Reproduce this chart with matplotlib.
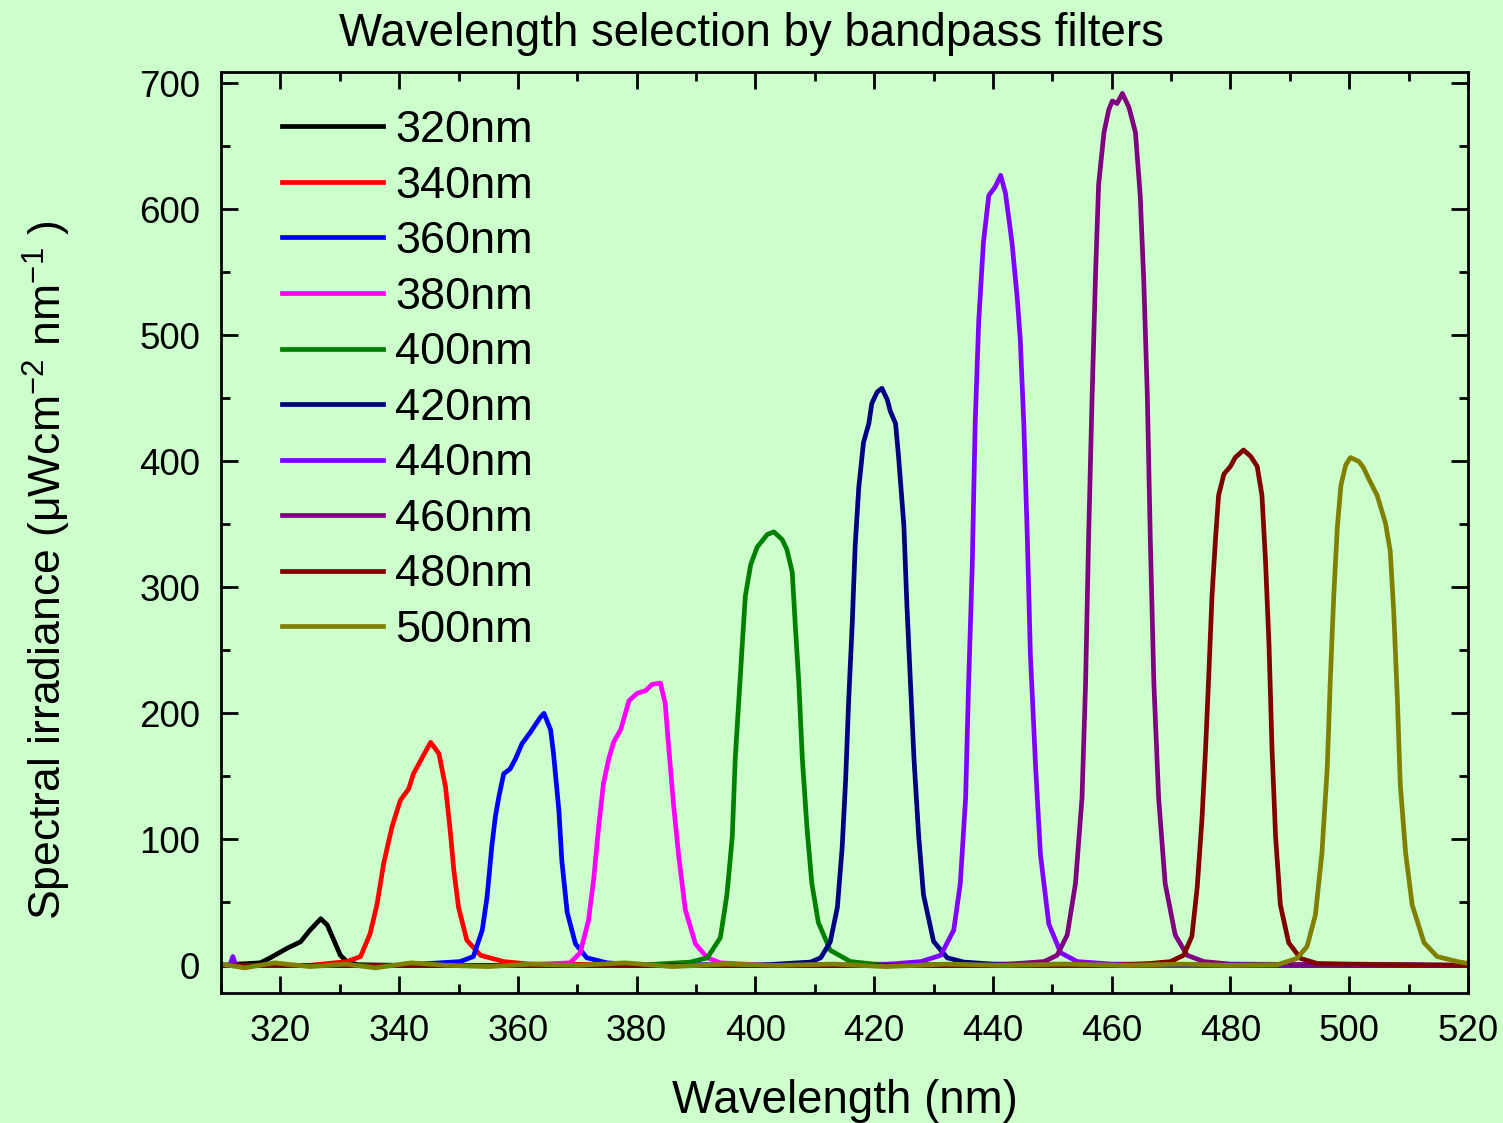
import matplotlib.pyplot as plt
from matplotlib.ticker import MultipleLocator

plt.rcParams['font.family'] = ['Liberation Sans', 'DejaVu Sans']
plt.rcParams['mathtext.fontset'] = 'custom'
plt.rcParams['mathtext.rm'] = 'Liberation Sans'
plt.rcParams['mathtext.it'] = 'Liberation Sans:italic'

bg = '#CCFFCC'

labels = ['320nm', '340nm', '360nm', '380nm', '400nm',
          '420nm', '440nm', '460nm', '480nm', '500nm']
colors = ['#000000', '#FF0000', '#0000FF', '#FF00FF', '#008000',
          '#000080', '#8000FF', '#800080', '#800000', '#808000']

# values (wavelength nm, irradiance uW cm^-2 nm^-1)
wl_320 = [310, 313, 316.6, 318.3, 321.1, 323.4, 325.0, 326.8, 327.9, 329.0,
          330.1, 331.2, 333, 340, 400, 520]
irr_320 = [0, 1, 2, 6, 13.5, 18.7, 28, 37, 32, 20, 8, 3, 0.5, 0, 0, 0]

wl_340 = [310, 325, 331.2, 333.5, 335.1, 336.3, 337.4, 338.8, 340.2, 341.6,
          342.4, 343.9, 345.3, 346.7, 347.8, 348.6, 349.2, 350.0, 351.4,
          353.7, 357.6, 362, 400, 520]
irr_340 = [0, 0, 3, 7, 25, 49, 81, 110, 131, 140, 152, 165, 177, 168, 142,
           107, 76, 46, 20, 8, 3, 1, 0, 0]

wl_360 = [310, 340, 350.3, 352.5, 354.0, 354.8, 355.6, 356.2, 356.8, 357.6,
          358.7, 359.6, 360.7, 362.1, 363.8, 364.4, 365.5, 366.0, 366.9,
          367.4, 368.3, 369.7, 371.6, 375.0, 380, 450, 520]
irr_360 = [0, 0, 3, 7, 28, 54, 94, 118, 134, 152, 156, 164, 176, 185, 197,
           200, 187, 168, 123, 83, 42, 17, 6, 2, 0.5, 0, 0]

wl_380 = [310, 360, 368.8, 370.5, 371.9, 372.8, 373.6, 374.4, 375.3, 376.1,
          377.3, 378.1, 378.7, 380.1, 381.5, 382.6, 384.0, 384.8, 385.4,
          386.2, 387.1, 388.2, 389.9, 391.9, 394.1, 400, 450, 520]
irr_380 = [0, 0, 2, 10, 36, 70, 110, 144, 164, 177, 187, 200, 210, 216, 218,
           223, 224, 208, 173, 128, 86, 44, 17, 6, 2, 0.5, 0, 0]

wl_400 = [310, 380, 389.1, 391.9, 394.1, 395.2, 396.1, 396.6, 397.2, 397.8,
          398.3, 399.2, 400.3, 402.0, 403.1, 404.5, 405.3, 406.2, 406.7,
          407.3, 407.9, 408.7, 409.5, 410.6, 412.6, 416.0, 420, 450, 520]
irr_400 = [0, 0, 2.6, 6, 22, 56, 102, 164, 210, 256, 293, 318, 332, 342, 344,
           338, 330, 312, 271, 225, 164, 108, 65, 34, 12, 3, 1, 0, 0]

wl_420 = [310, 400, 409.3, 411.0, 412.6, 413.8, 414.6, 415.2, 415.7, 416.3,
          416.8, 417.4, 418.2, 419.1, 419.6, 420.5, 421.3, 422.2, 422.7,
          423.6, 424.1, 425.0, 425.5, 426.1, 426.7, 427.5, 428.3, 430.0,
          432.3, 435.1, 440, 520]
irr_420 = [0, 0, 2.6, 6, 18.6, 46, 93, 148, 210, 271, 333, 379, 415, 430, 446,
           455, 458, 449, 440, 430, 404, 349, 287, 225, 164, 102, 56, 19, 6,
           2.6, 1, 0]

wl_440 = [310, 311.5, 312, 312.5, 420, 427.9, 431.2, 433.4, 434.5, 435.4,
          435.9, 436.5, 437.0, 437.6, 438.4, 439.3, 440.4, 441.3, 442.1,
          443.2, 444.1, 444.6, 445.2, 445.8, 446.3, 447.2, 448.0, 449.4,
          451.4, 454.2, 460, 520]
irr_440 = [0, 0, 7, 0, 0, 3, 8, 28, 65, 133, 224, 315, 429, 511, 574, 611,
           618, 627, 613, 574, 529, 497, 429, 338, 247, 156, 88, 33, 10, 3,
           1, 0]

wl_460 = [310, 440, 448.6, 450.8, 452.5, 453.9, 455.0, 455.6, 456.1, 456.7,
          457.3, 457.8, 458.7, 459.5, 460.1, 460.9, 461.8, 462.9, 464.0,
          464.8, 465.4, 466.0, 466.5, 467.1, 467.9, 469.0, 470.7, 472.7,
          475.5, 480, 520]
irr_460 = [0, 0, 3, 8, 24, 65, 133, 224, 338, 452, 552, 620, 661, 679, 686,
           684, 692, 681, 661, 611, 543, 452, 338, 224, 133, 65, 24, 8, 3, 1,
           0]

wl_480 = [310, 460, 466.5, 469.9, 472.1, 473.5, 474.4, 475.2, 475.8, 476.3,
          476.9, 477.5, 478.0, 478.9, 480.0, 480.8, 482.2, 483.4, 484.5,
          485.3, 485.9, 486.5, 487.0, 487.6, 488.4, 489.8, 491.8, 494.6, 500,
          520]
irr_480 = [0, 0, 1.5, 3, 8, 23, 62, 116, 171, 225, 294, 340, 373, 390, 396,
           403, 409, 404, 396, 373, 321, 253, 171, 102, 48, 18, 5.5, 1.5, 1, 0]

wl_500 = [310, 314, 319, 325, 331, 336, 342, 348, 355, 362, 370, 378, 386,
          395, 404, 413, 422, 432, 442, 452, 462, 472, 480, 487.9, 491.2,
          492.9, 494.3, 495.4, 496.3, 496.8, 497.4, 498.0, 498.6, 499.4,
          500.2, 501.6, 502.4, 503.3, 504.7, 506.1, 506.9, 507.5, 508.1,
          508.6, 509.5, 510.6, 512.6, 514.8, 518.2, 520]
irr_500 = [1, -2, 2, -1, 1, -2, 2, 0, -1, 1, 0, 2, -1, 1, 0, 1, -1, 1, 0, 1,
           0, 1, 0, 0.5, 5.5, 15, 40, 89, 157, 225, 294, 348, 381, 397, 403,
           400, 395, 386, 373, 351, 329, 280, 212, 143, 89, 48, 18, 7, 3, 1.5]

wavelengths = [wl_320, wl_340, wl_360, wl_380, wl_400,
               wl_420, wl_440, wl_460, wl_480, wl_500]
irradiance = [irr_320, irr_340, irr_360, irr_380, irr_400,
              irr_420, irr_440, irr_460, irr_480, irr_500]

fig = plt.figure(figsize=(15.03, 11.23), dpi=100, facecolor=bg)
ax = fig.add_axes([221 / 1503, (1123 - 992.7) / 1123,
                   (1468 - 221) / 1503, (992.7 - 72) / 1123])
ax.set_facecolor(bg)

for wl, irr, c, lab in zip(wavelengths, irradiance, colors, labels):
    ax.plot(wl, irr, color=c, lw=3.4, label=lab, solid_joinstyle='round')

ax.set_xlim(310, 520)
ax.set_ylim(-21.7, 709)
ax.xaxis.set_major_locator(MultipleLocator(20))
ax.xaxis.set_minor_locator(MultipleLocator(10))
ax.yaxis.set_major_locator(MultipleLocator(100))
ax.yaxis.set_minor_locator(MultipleLocator(50))
ax.tick_params(which='both', direction='in', top=True, right=True, width=2)
ax.tick_params(which='major', length=12, labelsize=26.5, pad=15)
ax.tick_params(which='minor', length=6.5)
for s in ax.spines.values():
    s.set_linewidth(2)

ax.legend(frameon=False, loc='upper left', bbox_to_anchor=(0.049, 0.9585),
          borderpad=0, borderaxespad=0, handlelength=2.23,
          handletextpad=0.27, labelspacing=0.322, fontsize=32.5)

fig.text(0.5, 1 - 46 / 1123, 'Wavelength selection by bandpass filters',
         ha='center', va='baseline', fontsize=32.9)
fig.text(844.5 / 1503, 1 - 1113 / 1123, 'Wavelength (nm)',
         ha='center', va='baseline', fontsize=32.9)
fig.text(62 / 1503, 1 - 570 / 1123,
         'Spectral irradiance (μWcm$^{-2}$ nm$^{-1}$ )',
         rotation=90, rotation_mode='anchor', ha='center', va='baseline',
         fontsize=32)

fig.savefig('out.png', dpi=100, facecolor=bg)
